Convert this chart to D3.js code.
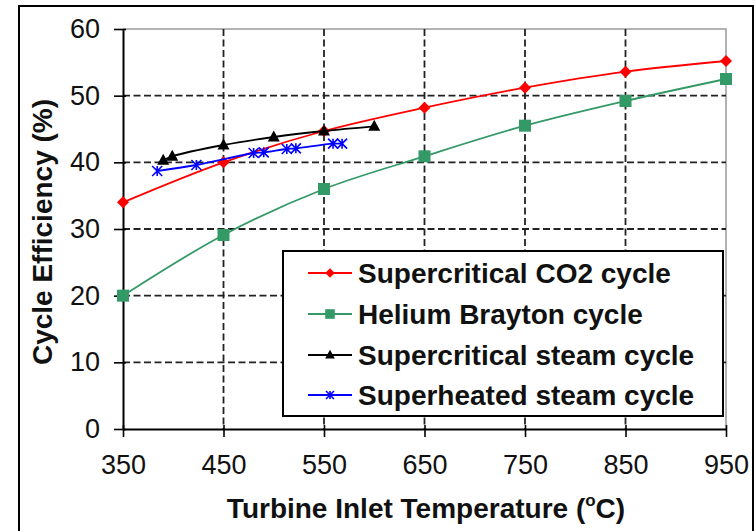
<!DOCTYPE html>
<html><head><meta charset="utf-8">
<script src="https://cdn.jsdelivr.net/npm/d3@7"></script>
<style>html,body{margin:0;padding:0;background:#fff;}svg{display:block;}</style>
</head><body>
<svg id="chart" width="755" height="531"></svg>
<script>
const xTicks = [350, 450, 550, 650, 750, 850, 950];
const yTicks = [0, 10, 20, 30, 40, 50, 60];

const co2Temps = [350, 450, 550, 650, 750, 850, 950];
const co2Values = [34.0, 40.0, 44.7, 48.2, 51.2, 53.6, 55.2];

const heliumTemps = [350, 450, 550, 650, 750, 850, 950];
const heliumValues = [20.0, 29.1, 36.0, 40.9, 45.5, 49.2, 52.5];

const scSteamTemps = [390, 399, 450, 500, 550, 600];
const scSteamValues = [40.3, 40.9, 42.6, 43.8, 44.7, 45.4];

const shSteamTemps = [384, 423, 480, 490, 513, 522, 559, 568];
const shSteamValues = [38.7, 39.6, 41.4, 41.5, 42.0, 42.1, 42.8, 42.8];

const seriesNames = ["Supercritical CO2 cycle", "Helium Brayton cycle", "Supercritical steam cycle", "Superheated steam cycle"];

const series = [
  {name: seriesNames[0], temps: co2Temps, values: co2Values, color: "#ff0000", marker: "diamond"},
  {name: seriesNames[1], temps: heliumTemps, values: heliumValues, color: "#339966", marker: "square"},
  {name: seriesNames[2], temps: scSteamTemps, values: scSteamValues, color: "#000000", marker: "triangle"},
  {name: seriesNames[3], temps: shSteamTemps, values: shSteamValues, color: "#0000ff", marker: "star"}
];

const svg = d3.select("#chart");
const font = "Arial, 'Liberation Sans', sans-serif";

// outer frame
svg.append("rect").attr("x", 19).attr("y", 6).attr("width", 734).attr("height", 540)
  .attr("fill", "none").attr("stroke", "#000").attr("stroke-width", 2);

const L = 123, R = 726, T = 29, B = 429;
const x = d3.scaleLinear().domain([350, 950]).range([L, R]);
const y = d3.scaleLinear().domain([0, 60]).range([B, T]);

// plot border top/right
svg.append("path").attr("d", `M${L},${T}H${R}V${B}`).attr("fill", "none")
  .attr("stroke", "#999").attr("stroke-width", 1.5);

// gridlines
const grid = svg.append("g").attr("stroke", "#222").attr("stroke-width", 1.8).attr("stroke-dasharray", "7,3.5");
xTicks.filter(t => t > 350 && t < 950).forEach(t => {
  grid.append("line").attr("x1", x(t)).attr("x2", x(t)).attr("y1", T).attr("y2", B);
});
yTicks.filter(t => t > 0 && t < 60).forEach(t => {
  grid.append("line").attr("x1", L).attr("x2", R).attr("y1", y(t)).attr("y2", y(t));
});

// axes
const xAxis = d3.axisBottom(x).tickValues(xTicks).tickSizeInner(8).tickSizeOuter(0).tickPadding(18);
const gx = svg.append("g").attr("transform", `translate(0,${B})`).call(xAxis);
gx.select(".domain").attr("stroke", "#000").attr("stroke-width", 2);
gx.selectAll(".tick line").attr("stroke", "#000").attr("stroke-width", 1.6).attr("y1", -4);
gx.selectAll(".tick text").attr("font-family", font).attr("font-size", 27).attr("fill", "#111");

const yAxis = d3.axisLeft(y).tickValues(yTicks).tickSizeInner(9).tickSizeOuter(0).tickPadding(14);
const gy = svg.append("g").attr("transform", `translate(${L},0)`).call(yAxis);
gy.select(".domain").attr("stroke", "#000").attr("stroke-width", 2);
gy.selectAll(".tick line").attr("stroke", "#000").attr("stroke-width", 1.6).attr("x1", 3);
gy.selectAll(".tick text").attr("font-family", font).attr("font-size", 27).attr("fill", "#111");

// axis titles
const xt = svg.append("text").attr("x", 426).attr("y", 518).attr("text-anchor", "middle")
  .attr("font-family", font).attr("font-size", 28).attr("font-weight", "bold").attr("fill", "#111");
xt.append("tspan").text("Turbine Inlet Temperature (");
xt.append("tspan").attr("font-size", 17).attr("dy", -12).text("o");
xt.append("tspan").attr("dy", 12).text("C)");

svg.append("text").attr("transform", "translate(52,232) rotate(-90)").attr("text-anchor", "middle")
  .attr("font-family", font).attr("font-size", 28).attr("font-weight", "bold").attr("fill", "#111")
  .text("Cycle Efficiency (%)");

// marker drawing
function drawMarker(g, type, cx, cy, color, s) {
  if (type === "diamond") {
    g.append("path").attr("d", `M${cx},${cy - s}L${cx + s},${cy}L${cx},${cy + s}L${cx - s},${cy}Z`).attr("fill", color);
  } else if (type === "square") {
    g.append("rect").attr("x", cx - s).attr("y", cy - s).attr("width", 2 * s).attr("height", 2 * s).attr("fill", color);
  } else if (type === "triangle") {
    g.append("path").attr("d", `M${cx},${cy - s * 1.1}L${cx + s},${cy + s * 0.75}L${cx - s},${cy + s * 0.75}Z`).attr("fill", color);
  } else if (type === "star") {
    g.append("path").attr("d", `M${cx - s},${cy - s}L${cx + s},${cy + s}M${cx - s},${cy + s}L${cx + s},${cy - s}M${cx},${cy - s}V${cy + s}`)
      .attr("stroke", color).attr("stroke-width", 1.6).attr("fill", "none");
  }
}

const sizes = {diamond: 6, square: 6, triangle: 6, star: 5};
const line = d3.line().x(d => x(d[0])).y(d => y(d[1])).curve(d3.curveCatmullRom.alpha(0.5));

series.forEach(s => {
  const pts = s.temps.map((t, i) => [t, s.values[i]]);
  const g = svg.append("g");
  g.append("path").datum(pts).attr("d", line).attr("fill", "none").attr("stroke", s.color).attr("stroke-width", 1.8);
  pts.forEach(p => drawMarker(g, s.marker, x(p[0]), y(p[1]), s.color, sizes[s.marker]));
});

// legend
const lg = svg.append("g");
lg.append("rect").attr("x", 283).attr("y", 251).attr("width", 440).attr("height", 165)
  .attr("fill", "#fff").attr("stroke", "#000").attr("stroke-width", 2);
const rowY = [273, 314, 355, 395];
series.forEach((s, i) => {
  const ry = rowY[i];
  lg.append("line").attr("x1", 308).attr("x2", 352).attr("y1", ry).attr("y2", ry).attr("stroke", s.color).attr("stroke-width", 1.8);
  drawMarker(lg, s.marker, 330, ry, s.color, sizes[s.marker] * 0.8);
  lg.append("text").attr("x", 358).attr("y", ry + 10).attr("font-family", font).attr("font-size", 28)
    .attr("font-weight", "bold").attr("fill", "#111").text(s.name);
});
</script>
</body></html>
